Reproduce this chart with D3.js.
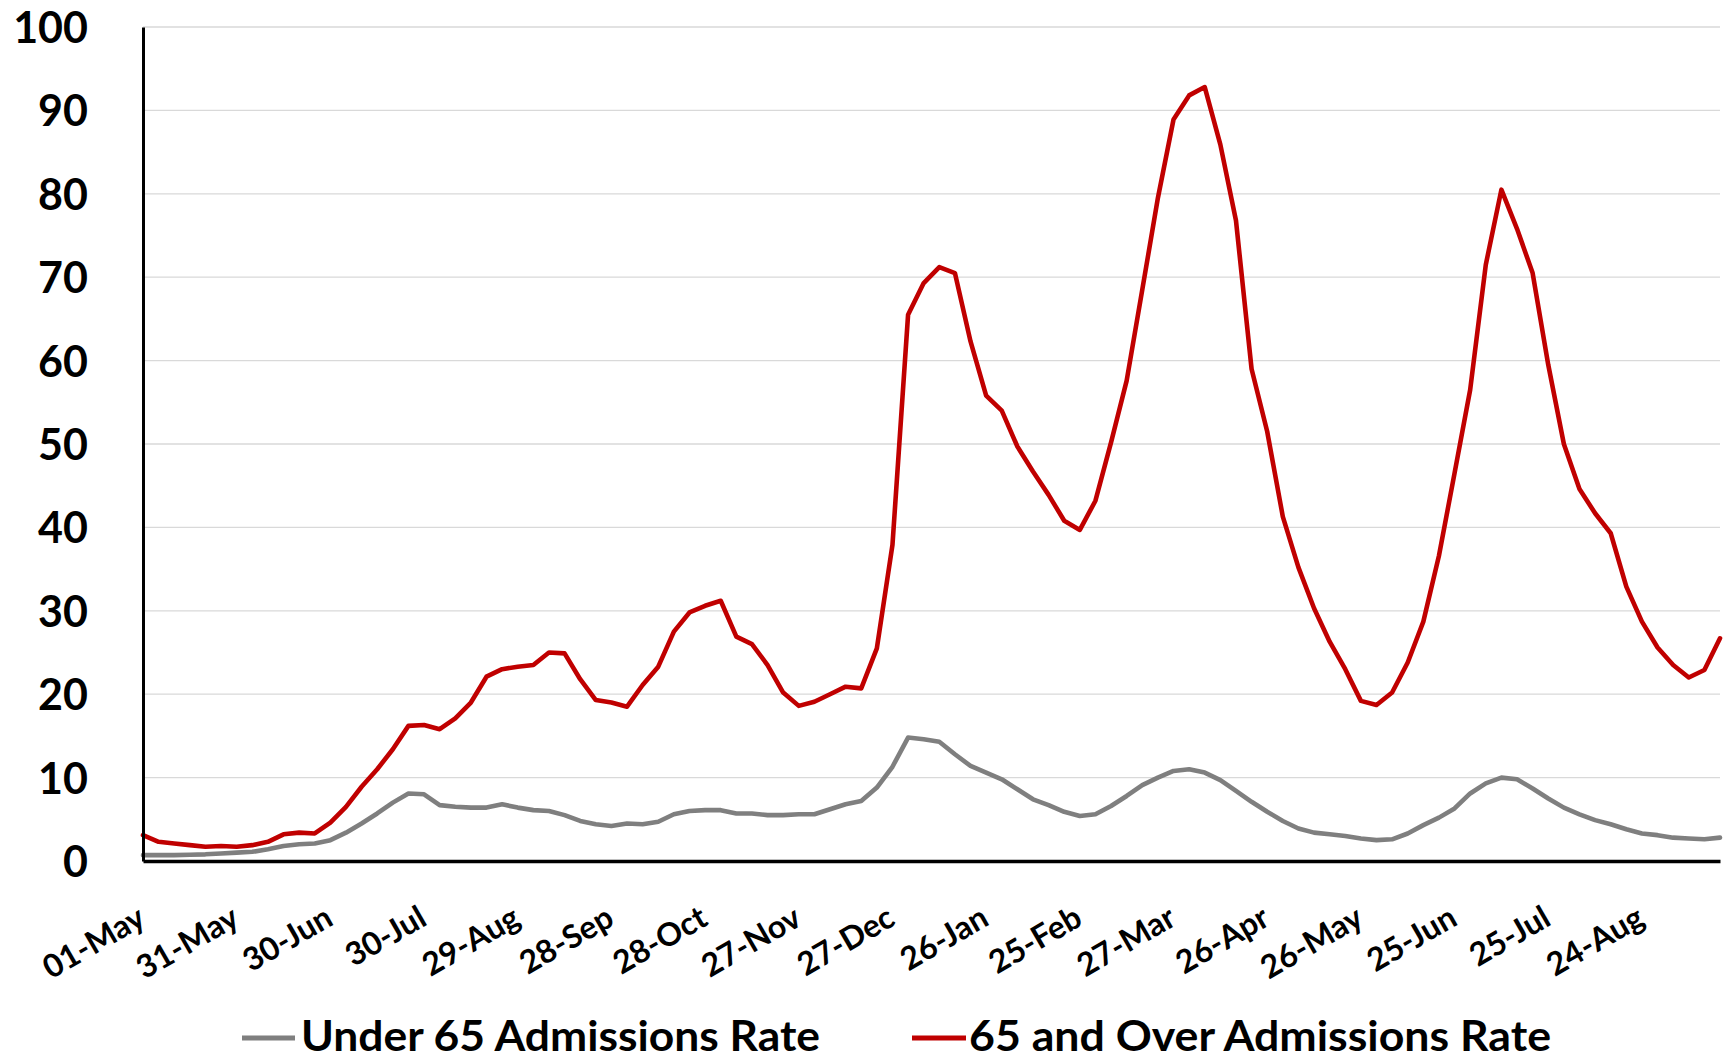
<!DOCTYPE html>
<html><head><meta charset="utf-8">
<script src="https://cdn.jsdelivr.net/npm/d3@7"></script>
<style>
html,body{margin:0;padding:0;background:#fff;}
svg{display:block;font-family:Lato,"Open Sans",sans-serif;}
</style></head><body>
<svg id="chart" width="1727" height="1059"></svg>
<script>
// ---- data (every 5 days) ----
const dates = [
"2020-05-01","2020-05-06","2020-05-11","2020-05-16","2020-05-21","2020-05-26","2020-05-31",
"2020-06-05","2020-06-10","2020-06-15","2020-06-20","2020-06-25","2020-06-30",
"2020-07-05","2020-07-10","2020-07-15","2020-07-20","2020-07-25","2020-07-30",
"2020-08-04","2020-08-09","2020-08-14","2020-08-19","2020-08-24","2020-08-29",
"2020-09-03","2020-09-08","2020-09-13","2020-09-18","2020-09-23","2020-09-28",
"2020-10-03","2020-10-08","2020-10-13","2020-10-18","2020-10-23","2020-10-28",
"2020-11-02","2020-11-07","2020-11-12","2020-11-17","2020-11-22","2020-11-27",
"2020-12-02","2020-12-07","2020-12-12","2020-12-17","2020-12-22","2020-12-27",
"2021-01-01","2021-01-06","2021-01-11","2021-01-16","2021-01-21","2021-01-26","2021-01-31",
"2021-02-05","2021-02-10","2021-02-15","2021-02-20","2021-02-25",
"2021-03-02","2021-03-07","2021-03-12","2021-03-17","2021-03-22","2021-03-27",
"2021-04-01","2021-04-06","2021-04-11","2021-04-16","2021-04-21","2021-04-26",
"2021-05-01","2021-05-06","2021-05-11","2021-05-16","2021-05-21","2021-05-26","2021-05-31",
"2021-06-05","2021-06-10","2021-06-15","2021-06-20","2021-06-25","2021-06-30",
"2021-07-05","2021-07-10","2021-07-15","2021-07-20","2021-07-25","2021-07-30",
"2021-08-04","2021-08-09","2021-08-14","2021-08-19","2021-08-24","2021-08-29",
"2021-09-03","2021-09-08","2021-09-13","2021-09-18"];

const under65 = [
0.7,0.7,0.7,0.75,0.8,0.9,1.0,1.1,1.4,1.8,2.0,2.1,2.5,3.4,4.5,5.7,7.0,8.1,8.0,6.7,
6.5,6.4,6.4,6.8,6.4,6.1,6.0,5.5,4.8,4.4,4.2,4.5,4.4,4.7,5.6,6.0,6.1,6.1,5.7,5.7,
5.5,5.5,5.6,5.6,6.2,6.8,7.2,8.8,11.3,14.8,14.6,14.3,12.8,11.4,10.6,9.8,8.6,7.4,6.7,5.9,
5.4,5.6,6.6,7.8,9.1,10.0,10.8,11.0,10.6,9.7,8.4,7.1,5.9,4.8,3.9,3.4,3.2,3.0,2.7,2.5,
2.6,3.3,4.3,5.2,6.3,8.1,9.3,10.0,9.8,8.7,7.5,6.4,5.6,4.9,4.4,3.8,3.3,3.1,2.8,2.7,
2.6,2.8];

const over65 = [
3.1,2.3,2.1,1.9,1.7,1.8,1.7,1.9,2.3,3.2,3.4,3.3,4.6,6.5,8.9,11.0,13.4,16.2,16.3,15.8,
17.1,19.0,22.1,23.0,23.3,23.5,25.0,24.9,21.8,19.3,19.0,18.5,21.1,23.3,27.5,29.8,30.6,31.2,26.9,26.0,
23.5,20.2,18.6,19.1,20.0,20.9,20.7,25.5,37.9,65.5,69.3,71.2,70.5,62.3,55.8,54.0,49.7,46.7,43.9,40.8,
39.7,43.2,50.2,57.6,68.5,79.5,88.9,91.8,92.8,85.9,76.8,59.0,51.5,41.3,35.2,30.3,26.3,23.0,19.2,18.7,
20.2,23.8,28.7,36.6,46.5,56.5,71.5,80.5,75.8,70.5,59.5,50.0,44.6,41.7,39.3,32.9,28.7,25.6,23.5,22.0,
22.9,26.7];

const xTickDates = ["2020-05-01","2020-05-31","2020-06-30","2020-07-30","2020-08-29","2020-09-28",
"2020-10-28","2020-11-27","2020-12-27","2021-01-26","2021-02-25","2021-03-27","2021-04-26",
"2021-05-26","2021-06-25","2021-07-25","2021-08-24"];
const yTicks = [0,10,20,30,40,50,60,70,80,90,100];
const seriesNames = ["Under 65 Admissions Rate","65 and Over Admissions Rate"];
const seriesColors = ["#7f7f7f","#c00000"];

// ---- drawing ----
const parse = d3.utcParse("%Y-%m-%d");
const svg = d3.select("#chart");
const L = 143, R = 1720, T = 27, B = 861;

const x = d3.scaleUtc().domain([parse(dates[0]), parse(dates[dates.length-1])]).range([L, R]);
const y = d3.scaleLinear().domain([0, 100]).range([B, T]);

// gridlines
svg.append("g").selectAll("line").data(yTicks.filter(v => v > 0)).join("line")
  .attr("x1", L).attr("x2", R)
  .attr("y1", d => y(d)).attr("y2", d => y(d))
  .attr("stroke", "#d9d9d9").attr("stroke-width", 1.3);

// series
const seriesData = [under65, over65];
const line = d3.line().x(d => x(d.date)).y(d => y(d.v));
seriesData.forEach((vals, i) => {
  const pts = vals.map((v, j) => ({date: parse(dates[j]), v}));
  svg.append("path").datum(pts)
    .attr("fill", "none").attr("stroke", seriesColors[i])
    .attr("stroke-width", 4.6).attr("stroke-linejoin", "round").attr("stroke-linecap", "round")
    .attr("d", line);
});

// y axis
const yAxis = svg.append("g").attr("transform", `translate(${L},0)`)
  .call(d3.axisLeft(y).tickValues(yTicks).tickSize(0).tickSizeOuter(0).tickPadding(55));
yAxis.select(".domain").attr("stroke", "#000").attr("stroke-width", 3);
yAxis.selectAll("text").attr("font-family", "Lato").attr("font-weight", 700)
  .attr("font-size", 43).attr("fill", "#000").attr("dy", "0.36em");

// x axis
const xAxis = svg.append("g").attr("transform", `translate(0,${B})`)
  .call(d3.axisBottom(x).tickValues(xTickDates.map(parse)).tickFormat(d3.utcFormat("%d-%b"))
    .tickSize(0).tickSizeOuter(0));
xAxis.select(".domain").attr("stroke", "#000").attr("stroke-width", 3.5);
xAxis.selectAll("text")
  .attr("font-family", "Lato").attr("font-weight", 700).attr("font-size", 32).attr("fill", "#000")
  .attr("y", 0).attr("dy", 0).attr("x", 0)
  .attr("text-anchor", "end")
  .attr("transform", "translate(4,63) rotate(-30)");

// legend
const legendItems = [
  {x1: 242, x2: 295, tx: 301, w: 519},
  {x1: 912, x2: 966, tx: 969, w: 582}
];
const lg = svg.append("g");
legendItems.forEach((it, i) => {
  lg.append("line").attr("x1", it.x1).attr("x2", it.x2).attr("y1", 1038).attr("y2", 1038)
    .attr("stroke", seriesColors[i]).attr("stroke-width", 5);
  lg.append("text").attr("x", it.tx).attr("y", 1051)
    .attr("font-family", "Lato").attr("font-weight", 700).attr("font-size", 42).attr("fill", "#000")
    .attr("textLength", it.w).attr("lengthAdjust", "spacingAndGlyphs")
    .text(seriesNames[i]);
});
</script>
</body></html>
